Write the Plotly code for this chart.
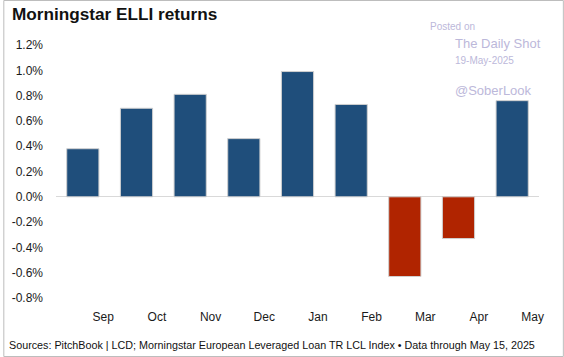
import plotly.graph_objects as go

months = ["Sep", "Oct", "Nov", "Dec", "Jan", "Feb", "Mar", "Apr", "May"]
returns = [0.38, 0.70, 0.81, 0.46, 0.99, 0.73, -0.63, -0.33, 0.76]
yticks = [-0.8, -0.6, -0.4, -0.2, 0.0, 0.2, 0.4, 0.6, 0.8, 1.0, 1.2]

BLUE = "#1F4E7B"
RED = "#B02400"
colors = [BLUE if v >= 0 else RED for v in returns]
xs = list(range(len(months)))

fig = go.Figure(go.Bar(
    x=xs, y=returns, marker=dict(color=colors, line=dict(color="#d0d0d0", width=1)),
    width=0.6, showlegend=False, hoverinfo="skip",
))

FONT = "Liberation Sans, Arial, sans-serif"
W, H = 564, 357
fig.update_layout(
    width=W, height=H,
    margin=dict(l=53, r=25, t=45, b=59),
    paper_bgcolor="white", plot_bgcolor="white",
    font=dict(family=FONT, color="#1a1a1a", size=12),
    bargap=0.4,
    xaxis=dict(
        range=[-0.5, 8.5], tickvals=[i + 0.38 for i in xs], ticktext=months,
        showgrid=False, zeroline=False, showline=False, ticks="",
        tickfont=dict(size=12, color="#1a1a1a"), ticklabelstandoff=10,
    ),
    yaxis=dict(
        range=[-0.8, 1.2], tickvals=yticks,
        ticktext=[f"{v:.1f}%" for v in yticks],
        showgrid=False, zeroline=True, zerolinecolor="#d9d9d9", zerolinewidth=1,
        showline=False, ticks="", tickfont=dict(size=12, color="#1a1a1a"),
        ticklabelstandoff=12,
    ),
)

L = 53
fig.add_annotation(text="<b>Morningstar ELLI returns</b>", xref="paper", yref="paper",
                   x=(7 - L) / 486, y=1 + 31 / 253, xanchor="left", yanchor="middle",
                   showarrow=False, font=dict(size=17.2, color="#111111", family=FONT))

fig.add_annotation(
    text="Sources: PitchBook | LCD; Morningstar European Leveraged Loan TR LCL Index \u2022 Data through May 15, 2025",
    xref="paper", yref="paper", x=(4 - L) / 486, y=-(345 - 298) / 253,
    xanchor="left", yanchor="middle", showarrow=False,
    font=dict(size=10.75, color="#111111", family=FONT))

WM = "#bcb8da"
def px_to_paper(xp, yp):
    return (xp - L) / 486, (298 - yp) / 253

for txt, xp, yp, sz in [("Posted on", 427, 27, 10), ("The Daily Shot", 452, 43, 13),
                        ("19-May-2025", 452, 61, 10), ("@SoberLook", 452, 90, 13)]:
    x, y = px_to_paper(xp, yp)
    fig.add_annotation(text=txt, xref="paper", yref="paper", x=x, y=y,
                       xanchor="left", yanchor="middle", showarrow=False,
                       font=dict(size=sz, color=WM, family=FONT))

fig.add_shape(type="rect", xref="paper", yref="paper",
              x0=(0.5 - L) / 486, x1=(563.5 - L) / 486, y0=-58.5 / 253, y1=1 + 44.5 / 253,
              line=dict(color="#bdbdbd", width=1), fillcolor="rgba(0,0,0,0)", layer="above")

fig.write_html("out.html", config={"displayModeBar": False},
               post_script="document.body.style.margin='0';document.body.style.overflow='hidden';")
